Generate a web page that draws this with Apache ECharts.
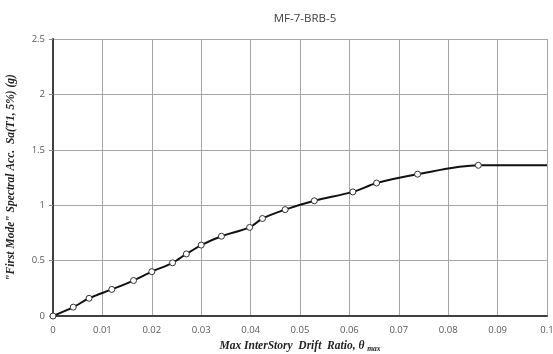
<!DOCTYPE html>
<html><head><meta charset="utf-8">
<script src="https://cdn.jsdelivr.net/npm/echarts@6/dist/echarts.min.js"></script>
<style>html,body{margin:0;padding:0;background:#fff}#c{width:553px;height:354px}</style>
</head><body><div id="c"></div>
<script>
const driftRatio = [0, 0.0041, 0.0073, 0.0119, 0.0163, 0.0200, 0.0242, 0.0270, 0.0300, 0.0341, 0.0398, 0.0424, 0.0470, 0.0529, 0.0607, 0.0655, 0.0738, 0.0861, 0.1];
const spectralAcc = [0, 0.08, 0.16, 0.24, 0.32, 0.40, 0.48, 0.56, 0.64, 0.72, 0.80, 0.88, 0.96, 1.04, 1.12, 1.20, 1.28, 1.36, 1.36];
const markedPoints = 18; // the last point is the flat extension without marker
const xTicks = [0, 0.01, 0.02, 0.03, 0.04, 0.05, 0.06, 0.07, 0.08, 0.09, 0.1];
const yTicks = [0, 0.5, 1, 1.5, 2, 2.5];

const data = driftRatio.map((x, i) => i < markedPoints ? [x, spectralAcc[i]] : {value: [x, spectralAcc[i]], symbol: 'none'});
const grid = {left: 53, right: 6, top: 39, bottom: 38, containLabel: false, outerBoundsMode: 'none'};
const tickStyle = {color: '#595959', fontSize: 9.5, fontFamily: 'Open Sans'};
const chart = echarts.init(document.getElementById('c'));
chart.setOption({
  animation: false,
  title: {text: 'MF-7-BRB-5', left: 300, textAlign: 'center', top: 8,
    textStyle: {fontSize: 11.5, fontWeight: 'normal', color: '#404040', fontFamily: 'Open Sans'}},
  grid: grid,
  xAxis: [{
    type: 'value', min: 0, max: 0.1, interval: 0.01,
    axisLine: {lineStyle: {color: '#888', width: 1}},
    axisTick: {show: false},
    axisLabel: Object.assign({margin: 9, formatter: v => String(+v.toFixed(2))}, tickStyle),
    splitLine: {lineStyle: {color: '#a6a6a6', width: 1}},
    name: '{a|Max InterStory  Drift  Ratio, θ }{s|max}',
    nameLocation: 'middle', nameGap: 22,
    nameTextStyle: {rich: {
      a: {fontFamily: 'Liberation Serif', fontStyle: 'italic', fontWeight: 'bold', fontSize: 11.5, color: '#222'},
      s: {fontFamily: 'Liberation Serif', fontStyle: 'italic', fontWeight: 'bold', fontSize: 7.5, color: '#222', verticalAlign: 'bottom', padding: [6, 0, 0, 0]}
    }}
  }, {
    type: 'value', min: 0, max: 0.1, position: 'top',
    axisLine: {lineStyle: {color: '#404040', width: 2}},
    axisTick: {show: false}, axisLabel: {show: false}, splitLine: {show: false}
  }],
  yAxis: [{
    type: 'value', min: 0, max: 2.5, interval: 0.5,
    axisLine: {show: true, lineStyle: {color: '#888', width: 1}},
    axisTick: {show: true, length: 4, lineStyle: {color: '#888'}},
    axisLabel: Object.assign({margin: 8}, tickStyle),
    splitLine: {lineStyle: {color: '#a6a6a6', width: 1}},
    name: '"First Mode" Spectral Acc.  Sa(T1, 5%) (g)',
    nameLocation: 'middle', nameGap: 36,
    nameTextStyle: {fontFamily: 'Liberation Serif', fontStyle: 'italic', fontWeight: 'bold', fontSize: 11.5, color: '#222'}
  }, {
    type: 'value', min: 0, max: 2.5, position: 'right',
    axisLine: {show: true, lineStyle: {color: '#404040', width: 2}},
    axisTick: {show: false}, axisLabel: {show: false}, splitLine: {show: false}
  }],
  series: [{
    type: 'line', data: data, smooth: 0.3,
    symbol: 'circle', symbolSize: 6,
    itemStyle: {color: '#fff', borderColor: '#333', borderWidth: 1},
    lineStyle: {color: '#111', width: 2}
  }]
});
</script></body></html>
